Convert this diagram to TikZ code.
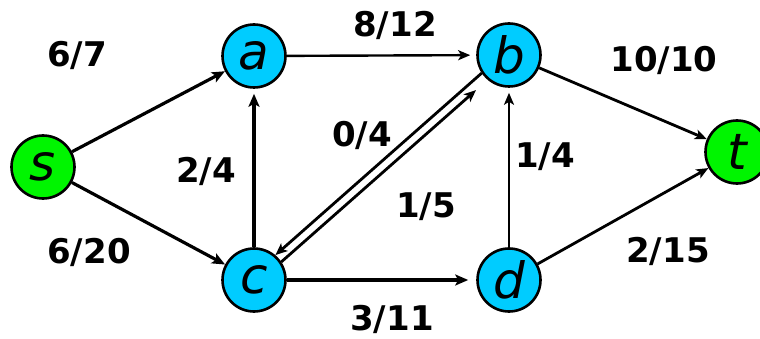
\documentclass[tikz,border=0pt]{standalone}
\usepackage{fontspec}
\setmainfont{DejaVu Sans}
\usetikzlibrary{arrows.meta,calc}
\definecolor{nodecyan}{RGB}{0,204,255}
\definecolor{nodegreen}{RGB}{0,245,0}
\begin{document}
\begin{tikzpicture}[x=1pt,y=-1pt,
  vertex/.style={circle,draw=black,line width=2.6pt,minimum size=63pt,inner sep=0pt,
    font=\fontsize{50}{50}\selectfont\itshape},
  bluev/.style={vertex,fill=nodecyan},
  greenv/.style={vertex,fill=nodegreen},
  lbl/.style={font=\fontsize{34}{34}\selectfont\bfseries,inner sep=0pt,anchor=base},
  edge/.style={line width=3.2pt,-{Stealth[length=13pt,width=11pt,inset=3pt]}},
  thinedge/.style={line width=2.4pt,-{Stealth[length=12pt,width=10pt,inset=3pt]}},
  midedge/.style={line width=2.8pt,-{Stealth[length=12pt,width=10pt,inset=3pt]}}]
\useasboundingbox (0,0) rectangle (760,339);
\node[greenv] (s) at (43,167) {s};
\node[bluev] (a) at (254,56) {a};
\node[bluev] (b) at (509,55) {b};
\node[bluev] (c) at (254,280) {c};
\node[bluev] (d) at (509,280) {d};
\node[greenv] (t) at (737,152) {t};
% edges
\draw[edge] (s) -- (a);
\draw[edge] (s) -- (c);
\draw[edge,shorten >=5pt] (c) -- (a);
\draw[thinedge,shorten >=6pt] (a) -- (b);
\draw[edge,shorten >=8pt] (c) -- (d);
\draw[thinedge,shorten >=5pt] (d) -- (b);
\draw[midedge] (b) -- (t);
\draw[midedge] (d) -- (t);
% double edge between c and b
\coordinate (c1) at ($(c)!4.5pt!90:(b)$);
\coordinate (b1) at ($(b)!4.5pt!-90:(c)$);
\coordinate (c2) at ($(c)!4.5pt!-90:(b)$);
\coordinate (b2) at ($(b)!4.5pt!90:(c)$);
\draw[midedge,shorten <=32.5pt,shorten >=32.5pt] (b1) -- (c1);
\draw[midedge,shorten <=32.5pt,shorten >=48pt] (c2) -- (b2);
% labels
\node[lbl] (l1) at (77,67) {6/7};
\node[lbl] (l2) at (89,263) {6/20};
\node[lbl] (l3) at (206,183) {2/4};
\node[lbl] (l4) at (395,37) {8/12};
\node[lbl] (l5) at (664,72) {10/10};
\node[lbl] (l6) at (362,147) {0/4};
\node[lbl] (l7) at (545,168) {1/4};
\node[lbl] (l8) at (426,218) {1/5};
\node[lbl] (l9) at (668,262) {2/15};
\node[lbl] (l10) at (392,330) {3/11};
\end{tikzpicture}
\end{document}
